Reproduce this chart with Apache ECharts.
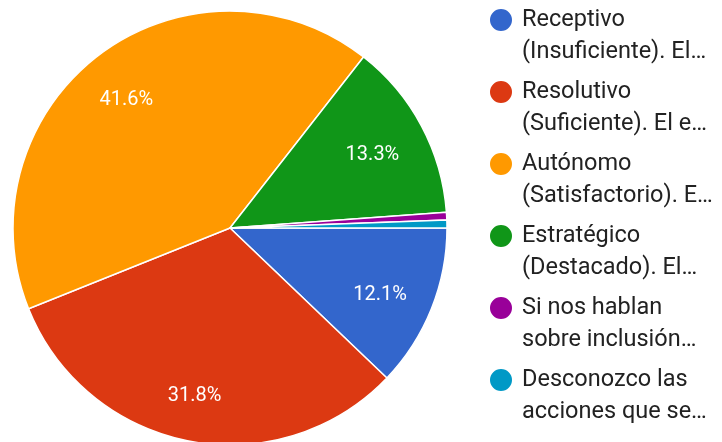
<!DOCTYPE html>
<html>
<head>
<meta charset="utf-8">
<script src="https://cdn.jsdelivr.net/npm/echarts@6/dist/echarts.min.js"></script>
<style>html,body{margin:0;padding:0;background:#fff;}#c{width:722px;height:442px;}</style>
</head>
<body>
<div id="c"></div>
<script>
const categories = [
  "Receptivo\n(Insuficiente). El…",
  "Resolutivo\n(Suficiente). El e…",
  "Autónomo\n(Satisfactorio). E…",
  "Estratégico\n(Destacado). El…",
  "Si nos hablan\nsobre inclusión…",
  "Desconozco las\nacciones que se…"
];
const counts = [21, 55, 72, 23, 1, 1];
const colors = ["#3366cc", "#dc3912", "#ff9900", "#109618", "#990099", "#0099c6"];

const data = categories.map((n, i) => ({ name: n, value: counts[i] }));
const chart = echarts.init(document.getElementById('c'));
chart.setOption({
  animation: false,
  color: colors,
  textStyle: { fontFamily: 'Roboto' },
  legend: {
    orient: 'vertical',
    left: 488,
    top: -28,
    padding: 0,
    itemGap: -24,
    itemWidth: 24,
    itemHeight: 24,
    icon: 'circle',
    selectedMode: false,
    formatter: name => '\n' + name,
    textStyle: {
      fontFamily: 'Roboto',
      fontSize: 23.5,
      lineHeight: 32,
      color: '#222',
      padding: [0, 0, 0, 4]
    },
    data: categories
  },
  series: [
    {
      type: 'pie',
      center: [230, 228],
      radius: [0, 217],
      startAngle: 0,
      clockwise: true,
      percentPrecision: 1,
      label: { show: false },
      labelLine: { show: false },
      itemStyle: { borderColor: '#fff', borderWidth: 1.5 },
      emphasis: { disabled: true },
      data: data
    },
    {
      type: 'pie',
      center: [230, 228],
      radius: [109, 217],
      startAngle: 0,
      clockwise: true,
      silent: true,
      percentPrecision: 1,
      itemStyle: { color: 'transparent', borderWidth: 0 },
      label: {
        show: true,
        position: 'inside',
        color: '#fff',
        fontFamily: 'Roboto',
        fontSize: 20,
        offset: [-4, 5],
        formatter: p => p.percent < 5 ? '' : p.percent.toFixed(1) + '%'
      },
      labelLine: { show: false },
      emphasis: { disabled: true },
      data: data
    }
  ]
});
</script>
</body>
</html>
